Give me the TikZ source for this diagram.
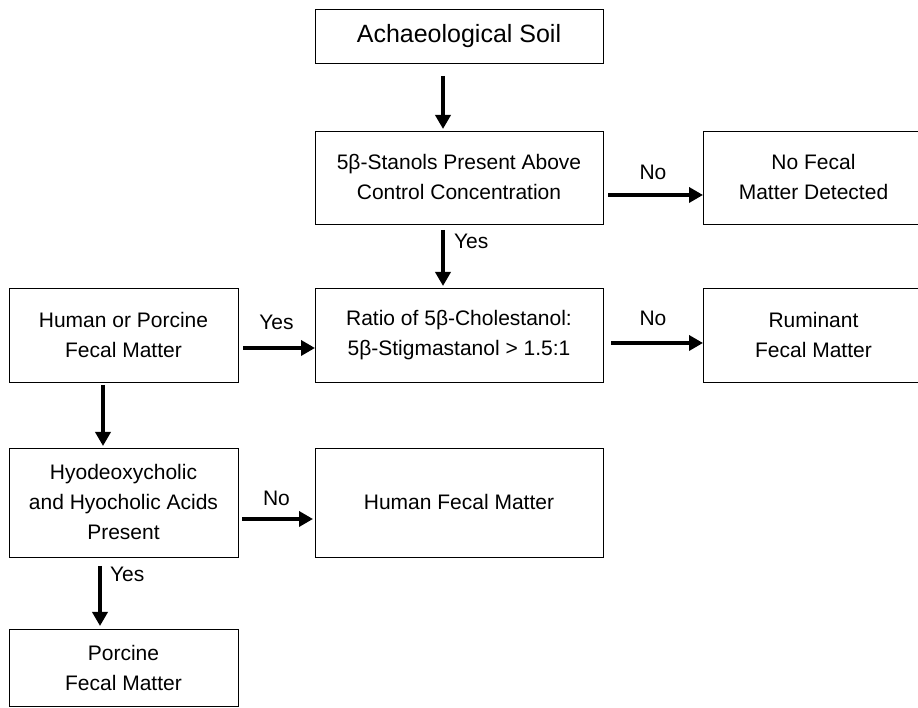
\documentclass[tikz,border=0pt]{standalone}
\usepackage{fontspec}
\setmainfont{Liberation Sans}
\tikzstyle{box}=[rectangle,draw=black,line width=0.9pt,align=center,
inner sep=0pt,outer sep=0pt,font=\fontsize{21pt}{30pt}\selectfont]
\tikzstyle{wbox}=[box,minimum width=288pt]
\tikzstyle{sbox}=[box,minimum width=229pt]
\tikzstyle{rbox}=[box,minimum width=221pt]
\tikzstyle{lab}=[inner sep=0pt,font=\fontsize{21pt}{25pt}\selectfont]
\usetikzlibrary{arrows.meta,positioning}

\begin{document}
\begin{tikzpicture}[>={Triangle[length=14pt,width=15pt]},line width=4pt]
            \useasboundingbox (0,0) rectangle (918pt,708pt);
            \clip (0,0) rectangle (918pt,708pt);

            % TOP PART

            \node[wbox,minimum height=54pt,font=\fontsize{25pt}{30pt}\selectfont] (soil) at (459pt,672pt) {Achaeological Soil};
            \node[wbox,minimum height=93pt,below=68pt of soil] (stanol) {5β-Stanols Present Above\\Control Concentration};
            \node[rbox,minimum height=93pt,right=100pt of stanol] (nofecal) {No Fecal\\Matter Detected};

            \path[->] ([xshift=-16pt]soil.south) edge[shorten <=13pt,shorten >=2pt] node {} ([xshift=-16pt]stanol.north);
            \path[->] ([yshift=-17.5pt]stanol.east) edge[shorten <=5pt] node[lab,midway,above=13pt] {No} ([yshift=-17.5pt]nofecal.west);

            % RATIO PART

            \node[wbox,minimum height=94pt,below=64pt of stanol] (ratio) {Ratio of 5β-Cholestanol:\\5β-Stigmastanol > 1.5:1};
            \node[rbox,minimum height=94pt,right=100pt of ratio] (ruminant) {Ruminant\\Fecal Matter};
            \node[sbox,minimum height=94pt,left=77pt of ratio] (humpor) {Human or Porcine\\Fecal Matter};

            \path[->] ([xshift=-16pt]stanol.south) edge[shorten <=6pt,shorten >=2pt] node[lab,pos=0.27,right=9pt] {Yes} ([xshift=-16pt]ratio.north);
            \path[->] ([yshift=-8pt]ratio.east) edge[shorten <=8pt] node[lab,midway,above=15pt] {No} ([yshift=-8pt]ruminant.west);
            \path[->] ([yshift=-13pt]humpor.east) edge[shorten <=5pt] node[lab,midway,above=16pt] {Yes} ([yshift=-13pt]ratio.west);

            % ACIDS PART

            \node[sbox,minimum height=109pt,below=66pt of humpor] (hyo) {Hyodeoxycholic\\and Hyocholic Acids\\Present};
            \node[wbox,minimum height=109pt,right=77pt of hyo] (human) {Human Fecal Matter};
            \node[sbox,minimum height=77pt,below=72pt of hyo] (porcine) {Porcine\\Fecal Matter};

            \path[->] ([xshift=-20.5pt]humpor.south) edge[shorten <=3pt,shorten >=2pt] node {} ([xshift=-20.5pt]hyo.north);
            \path[->] ([yshift=-16.5pt]hyo.east) edge[shorten <=4pt,shorten >=2pt] node[lab,midway,above=11.5pt] {No} ([yshift=-16.5pt]human.west);
            \path[->] ([xshift=-23.5pt]hyo.south) edge[shorten <=9pt,shorten >=3pt] node[lab,pos=0.24,right=8pt] {Yes} ([xshift=-23.5pt]porcine.north);

\end{tikzpicture}
\end{document}
